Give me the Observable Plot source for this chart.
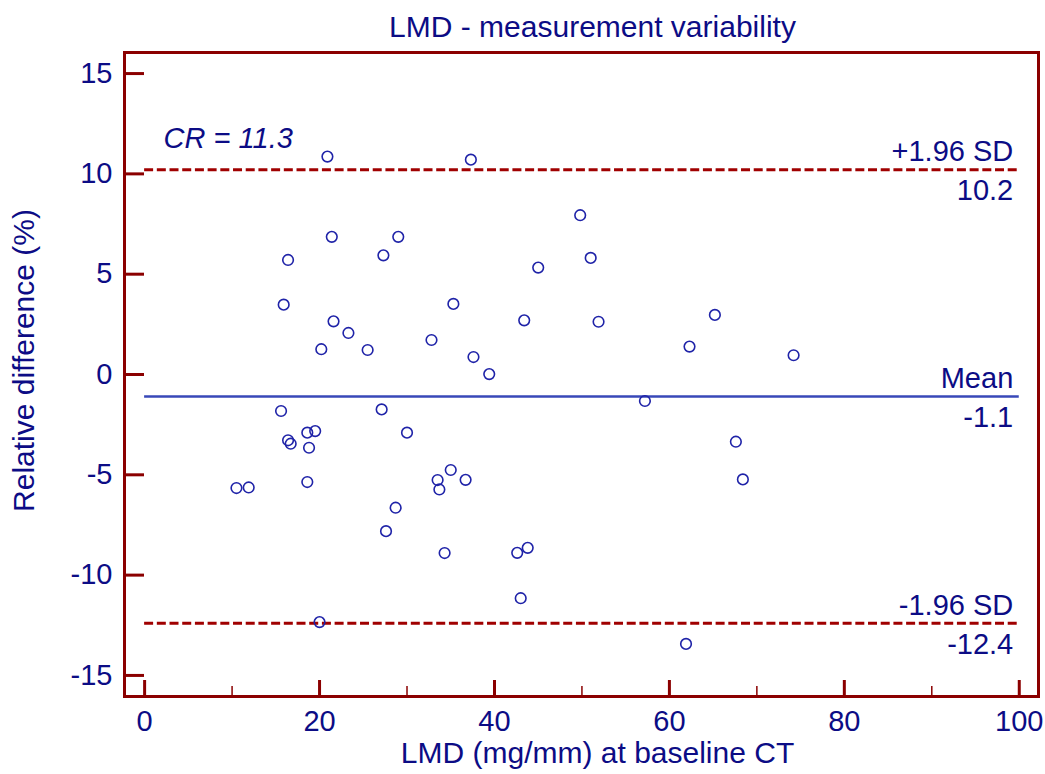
<!DOCTYPE html>
<html>
<head>
<meta charset="utf-8">
<script src="https://cdn.jsdelivr.net/npm/d3@7"></script>
<script src="https://cdn.jsdelivr.net/npm/@observablehq/plot@0.6"></script>
<style>
  html, body { margin: 0; padding: 0; background: #fff; }
</style>
</head>
<body>
<div id="chart"></div>
<script>
// ---- Data ----
const title = "LMD - measurement variability";
const xLabel = "LMD (mg/mm) at baseline CT";
const yLabel = "Relative difference (%)";

const lmd = [
  20.9, 37.3, 49.8, 21.4, 29.0, 16.4, 27.3, 45.0, 15.9, 21.6,
  23.3, 20.2, 25.5, 35.3, 43.4, 32.8, 37.6, 39.4, 51.0, 51.9,
  65.2, 62.3, 74.2, 15.6, 27.1, 30.0, 16.4, 16.7, 18.6, 19.5,
  18.8, 10.5, 11.9, 18.6, 35.0, 33.5, 33.7, 36.7, 28.7, 27.6,
  34.3, 42.6, 43.8, 43.0, 20.0, 57.2, 67.6, 68.4, 61.9
];
const relDiff = [
  10.86, 10.71, 7.94, 6.86, 6.86, 5.71, 5.94, 5.33, 3.48, 2.65,
  2.07, 1.26, 1.22, 3.52, 2.70, 1.72, 0.87, 0.02, 5.81, 2.63,
  2.97, 1.39, 0.96, -1.82, -1.74, -2.90, -3.28, -3.45, -2.90, -2.82,
  -3.65, -5.66, -5.63, -5.36, -4.76, -5.26, -5.73, -5.25, -6.64, -7.81,
  -8.90, -8.89, -8.64, -11.15, -12.34, -1.32, -3.35, -5.23, -13.43
];

const limitValues = [10.2, -1.1, -12.4];
const limitNames = ["+1.96 SD", "Mean", "-1.96 SD"];
const limitLabels = ["10.2", "-1.1", "-12.4"];
const crText = "CR = 11.3";

const xTicks = [0, 20, 40, 60, 80, 100];
const xMinorTicks = [10, 30, 50, 70, 90];
const yTicks = [-15, -10, -5, 0, 5, 10, 15];

// ---- Build ----
const points = lmd.map((x, i) => ({x, y: relDiff[i]}));
const limits = limitValues.map((v, i) => ({v, name: limitNames[i], label: limitLabels[i], dashed: i !== 1}));
const xStart = xTicks[0], xEnd = xTicks[xTicks.length - 1];

const W = 1045, H = 774;
const mL = 124, mR = 7, mT = 52, mB = 78;
const frameW = W - mL - mR, frameH = H - mT - mB;

const red = "#8b0000";
const navy = "#0c0c85";
const dotBlue = "#1f23a8";
const meanBlue = "#3848b8";
const fmt = d => String(d);

const chart = Plot.plot({
  width: W,
  height: H,
  marginLeft: mL,
  marginRight: mR,
  marginTop: mT,
  marginBottom: mB,
  style: {fontFamily: "'Liberation Sans', Arial, sans-serif", color: navy, background: "#fff"},
  x: {domain: [-2.3, 102.2]},
  y: {domain: [-16.05, 16.05]},
  marks: [
    // reference lines
    Plot.ruleY(limits.filter(d => d.dashed), {y: "v", x1: xStart, x2: xEnd, stroke: "#a00000", strokeWidth: 3, strokeDasharray: "9,3.7"}),
    Plot.ruleY(limits.filter(d => !d.dashed), {y: "v", x1: xStart, x2: xEnd, stroke: meanBlue, strokeWidth: 2.5}),
    Plot.text(limits, {x: xEnd, y: "v", text: "name", textAnchor: "end", lineAnchor: "middle", dx: -6, dy: -18, fontSize: 29, fill: navy}),
    Plot.text(limits, {x: xEnd, y: "v", text: "label", textAnchor: "end", lineAnchor: "middle", dx: -6, dy: 21, fontSize: 29, fill: navy}),
    Plot.text([crText], {x: xStart, y: limitValues[0], text: d => d, textAnchor: "start", lineAnchor: "middle", dx: 19, dy: -31, fontSize: 29, fontStyle: "italic", fill: navy}),
    // points
    Plot.dot(points, {x: "x", y: "y", r: 5.3, stroke: dotBlue, strokeWidth: 1.6, fill: "none"}),
    // inward ticks
    Plot.tickY(yTicks, {y: d => d, stroke: red, strokeWidth: 3, insetRight: frameW - 20}),
    Plot.tickX(xTicks, {x: d => d, stroke: red, strokeWidth: 3, insetTop: frameH - 16}),
    Plot.tickX(xMinorTicks, {x: d => d, stroke: red, strokeWidth: 1.5, insetTop: frameH - 10}),
    Plot.frame({stroke: red, strokeWidth: 3}),
    // axes (labels only)
    Plot.axisX(xTicks, {tickSize: 0, tickPadding: 14, fontSize: 29, label: null, fill: navy, tickFormat: fmt}),
    Plot.axisY(yTicks, {tickSize: 0, tickPadding: 12, fontSize: 29, label: null, fill: navy, tickFormat: fmt}),
    // titles
    Plot.text([title], {text: d => d, frameAnchor: "top", textAnchor: "middle", dy: -25, dx: 11, lineAnchor: "middle", fontSize: 30, fill: navy}),
    Plot.text([xLabel], {text: d => d, frameAnchor: "bottom", textAnchor: "middle", dy: 57, dx: 16, lineAnchor: "middle", fontSize: 30, fill: navy}),
    Plot.text([yLabel], {text: d => d, frameAnchor: "left", textAnchor: "middle", dx: -100, dy: -14, rotate: -90, lineAnchor: "middle", fontSize: 30, fill: navy})
  ]
});
document.getElementById("chart").appendChild(chart);
</script>
</body>
</html>
